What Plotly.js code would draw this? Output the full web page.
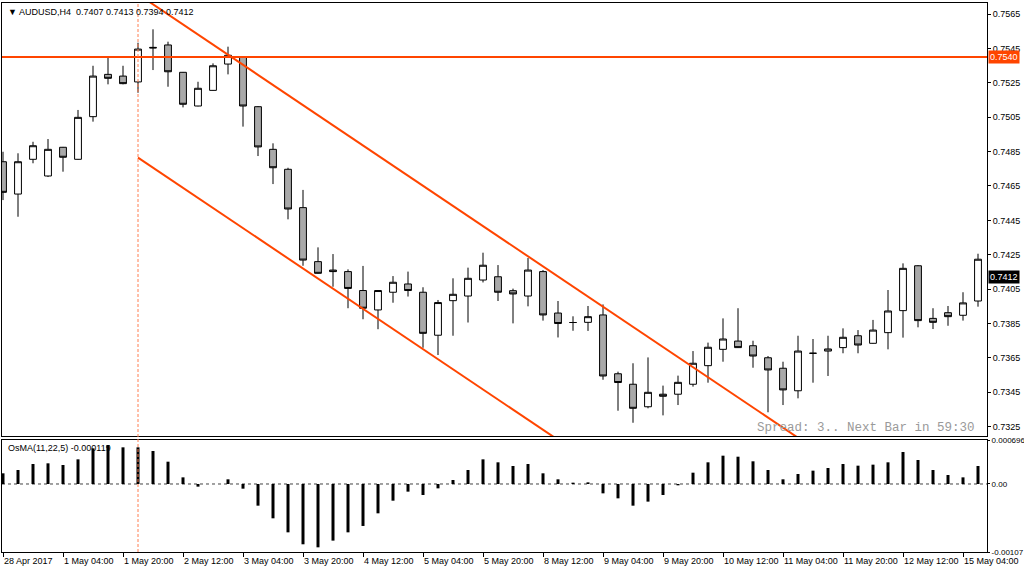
<!DOCTYPE html>
<html>
<head>
<meta charset="utf-8">
<script src="https://cdn.plot.ly/plotly-3.0.1.min.js"></script>
<style>html,body{margin:0;padding:0;background:#fff;}#chart{width:1024px;height:572px;}</style>
</head>
<body>
<div id="chart"></div>
<script>
// ---- data (AUDUSD, H4) ----
const opens = [0.74791,0.74603,0.74805,0.74708,0.74875,0.74805,0.75053,0.75299,0.75289,0.75255,
0.75456,0.75470,0.75311,0.75115,0.75206,0.75359,0.75398,0.75111,0.74863,0.74747,
0.74524,0.74210,0.74161,0.74152,0.74042,0.73929,0.74032,0.74080,0.74032,0.73782,
0.73983,0.74010,0.74103,0.74122,0.74041,0.74010,0.74152,0.73911,0.73856,0.73857,
0.73900,0.73558,0.73497,0.73366,0.73439,0.73439,0.73497,0.73605,0.73700,0.73748,
0.73721,0.73651,0.73590,0.73459,0.73677,0.73690,0.73710,0.73779,0.73735,0.73797,
0.73925,0.74186,0.73880,0.73913,0.73898,0.73981];
const highs = [0.74849,0.74840,0.74907,0.74923,0.74877,0.75092,0.75349,0.75398,0.75349,0.75483,
0.75561,0.75489,0.75313,0.75256,0.75363,0.75460,0.75400,0.75115,0.74898,0.74756,
0.74627,0.74293,0.74254,0.74165,0.74185,0.74045,0.74126,0.74152,0.74061,0.73987,
0.74113,0.74175,0.74262,0.74190,0.74053,0.74231,0.74161,0.73981,0.73892,0.73952,
0.73961,0.73570,0.73619,0.73653,0.73489,0.73547,0.73690,0.73739,0.73880,0.73939,
0.73750,0.73661,0.73628,0.73779,0.73760,0.73779,0.73822,0.73812,0.73871,0.74045,
0.74200,0.74190,0.73939,0.73952,0.74032,0.74256];
const lows = [0.74568,0.74471,0.74782,0.74702,0.74733,0.74803,0.75024,0.75241,0.75241,0.75192,
0.75324,0.75227,0.75107,0.75113,0.75204,0.75299,0.74995,0.74824,0.74661,0.74456,
0.74186,0.74140,0.74064,0.73939,0.73875,0.73817,0.73971,0.74007,0.73709,0.73667,
0.73779,0.73856,0.74089,0.73981,0.73851,0.73950,0.73867,0.73769,0.73808,0.73807,
0.73523,0.73343,0.73273,0.73357,0.73316,0.73376,0.73483,0.73506,0.73628,0.73708,
0.73593,0.73334,0.73376,0.73415,0.73506,0.73545,0.73677,0.73677,0.73733,0.73700,
0.73768,0.73828,0.73818,0.73837,0.73867,0.73948];
const closes = [0.74613,0.74791,0.74884,0.74863,0.74817,0.75049,0.75289,0.75276,0.75245,0.75446,
0.75453,0.75314,0.75125,0.75218,0.75349,0.75410,0.75115,0.74877,0.74756,0.74516,
0.74219,0.74142,0.74152,0.74054,0.73939,0.74042,0.74090,0.74042,0.73793,0.73972,
0.74020,0.74113,0.74189,0.74032,0.74022,0.74161,0.73900,0.73850,0.73856,0.73890,
0.73545,0.73507,0.73357,0.73450,0.73427,0.73508,0.73619,0.73712,0.73760,0.73710,
0.73661,0.73580,0.73464,0.73690,0.73677,0.73702,0.73770,0.73725,0.73812,0.73923,
0.74171,0.73867,0.73857,0.73890,0.73970,0.74224];
const osma = [0.000169,0.000221,0.000316,0.000327,0.000301,0.00039,0.000564,0.000617,0.00058,0.00058,
0.000522,0.000353,0.000105,-0.000042,0,0.000074,-0.000074,-0.000343,-0.000543,-0.000765,
-0.000954,-0.001002,-0.000896,-0.000765,-0.000664,-0.000464,-0.000264,-0.000121,-0.000174,-0.000069,
0.000063,0.000221,0.00039,0.000343,0.000285,0.000316,0.000169,0.000074,0.000021,0.000026,
-0.000148,-0.000227,-0.000343,-0.000279,-0.000174,-0.000021,0.000179,0.000343,0.000448,0.000432,
0.000359,0.000221,0.000074,0.000158,0.000211,0.000253,0.000316,0.00029,0.000306,0.000343,
0.000506,0.00038,0.000221,0.000142,0.000105,0.000285];

const tickIdx = [0,4,8,12,16,20,24,28,32,36,40,44,48,52,56,60,64];
const tickLabels = ["28 Apr 2017","1 May 04:00","1 May 20:00","2 May 12:00","3 May 04:00","3 May 20:00",
"4 May 12:00","5 May 04:00","5 May 20:00","8 May 12:00","9 May 04:00","9 May 20:00",
"10 May 12:00","11 May 04:00","11 May 20:00","12 May 12:00","15 May 04:00"];
const priceTicks = [0.7325,0.7345,0.7365,0.7385,0.7405,0.7425,0.7445,0.7465,0.7485,0.7505,0.7525,0.7545,0.7565];
const oscTicks = [0.000696,0,-0.001076];
const oscTickText = ["0.000696","0.00","-0.00107"];

// channel (bar index, price) anchors, horizontal level, marker bar
const channelX = [9, 80];
const upperChannel = [0.75765, 0.71603];
const lowerChannel = [0.74815, 0.70653];
const hLevel = 0.7540;
const bidPrice = 0.7412;
const markerBar = 9;
const headerText = "\u25BC AUDUSD,H4\u00a0\u00a00.7407 0.7413 0.7394 0.7412";
const oscLabel = "OsMA(11,22,5) -0.000119";
const spreadText = "Spread: 3.. Next Bar in 59:30";

// ---- chart ----
const barIdx = opens.map((_, i) => i);
const RED = '#ff4500';
const xr = [-0.0667, 65.6];
const axisFont = {family:'Liberation Sans, Arial, sans-serif', size:9, color:'#000'};

const traces = [
  {type:'candlestick', x:barIdx, open:opens, high:highs, low:lows, close:closes,
   xaxis:'x', yaxis:'y', hoverinfo:'none',
   increasing:{line:{color:'#000',width:1}, fillcolor:'#ffffff'},
   decreasing:{line:{color:'#000',width:1}, fillcolor:'#a9a9a9'}},
  {type:'bar', x:barIdx, y:osma, xaxis:'x2', yaxis:'y2', marker:{color:'#000'}, width:0.2, hoverinfo:'none'},
  {type:'scatter', mode:'lines', x:channelX, y:upperChannel, xaxis:'x', yaxis:'y', line:{color:RED,width:2}, hoverinfo:'none'},
  {type:'scatter', mode:'lines', x:channelX, y:lowerChannel, xaxis:'x', yaxis:'y', line:{color:RED,width:2}, hoverinfo:'none'}
];

const layout = {
  width:1024, height:572,
  margin:{l:2, r:37, t:3, b:20, pad:0},
  paper_bgcolor:'#ffffff', plot_bgcolor:'#ffffff',
  showlegend:false,
  boxgap:0.35,
  font:axisFont,
  xaxis:{domain:[0,1], anchor:'y', range:xr, showticklabels:false, ticks:'', showline:true, mirror:true,
         linecolor:'#000', linewidth:1, showgrid:false, zeroline:false, rangeslider:{visible:false}, fixedrange:true},
  yaxis:{domain:[0.2113,1], anchor:'x', side:'right', range:[0.73196,0.75714], tickvals:priceTicks, tickformat:'.4f',
         ticks:'outside', ticklen:3, tickcolor:'#000', showline:true, mirror:true, linecolor:'#000', linewidth:1,
         showgrid:false, zeroline:false, tickfont:axisFont, fixedrange:true},
  xaxis2:{domain:[0,1], anchor:'y2', range:xr, tickvals:tickIdx, ticktext:tickLabels, ticks:'outside', ticklen:4,
          tickangle:0, tickcolor:'#000', ticklabelposition:'outside right', showline:true, mirror:true, linecolor:'#000', linewidth:1,
          showgrid:false, zeroline:false, tickfont:axisFont, fixedrange:true},
  yaxis2:{domain:[0,0.204], anchor:'x2', side:'right', range:[-0.001076,0.000696], tickvals:oscTicks, ticktext:oscTickText,
          ticks:'outside', ticklen:2, tickcolor:'#000', showline:true, mirror:true, linecolor:'#000', linewidth:1,
          showgrid:false, zeroline:false, tickfont:{family:'Liberation Sans, Arial, sans-serif', size:8, color:'#000'}, fixedrange:true},
  shapes:[
    {type:'line', xref:'paper', x0:0, x1:1, yref:'y', y0:hLevel, y1:hLevel, line:{color:RED, width:2}},
    {type:'line', xref:'paper', x0:0, x1:1, yref:'y2', y0:0, y1:0, layer:'below', line:{color:'#444', width:1, dash:'3px,3px'}},
    {type:'line', xref:'x', x0:markerBar, x1:markerBar, yref:'paper', y0:0, y1:1, line:{color:'#ff7f50', width:1, dash:'3px,2px'}}
  ],
  annotations:[
    {xref:'paper', x:0, xanchor:'left', xshift:4, yref:'paper', y:1, yanchor:'top', yshift:-2, text:headerText,
     showarrow:false, font:{family:'Liberation Sans, Arial, sans-serif', size:9, color:'#000'}},
    {xref:'paper', x:0, xanchor:'left', xshift:4, yref:'y2 domain', y:1, yanchor:'top', yshift:-1, text:oscLabel,
     showarrow:false, font:{family:'Liberation Sans, Arial, sans-serif', size:9, color:'#000'}},
    {xref:'paper', x:0.9898, xanchor:'right', yref:'paper', y:0.2259, yanchor:'middle', text:spreadText,
     showarrow:false, font:{family:'Liberation Mono, DejaVu Sans Mono, monospace', size:12.5, color:'#9a9a9a'}},
    {xref:'paper', x:1, xanchor:'left', xshift:1, yref:'y', y:hLevel, yanchor:'middle', text:String(hLevel.toFixed(4)),
     showarrow:false, bgcolor:RED, borderpad:1, font:{family:'Liberation Sans, Arial, sans-serif', size:9, color:'#ffffff'}},
    {xref:'paper', x:1, xanchor:'left', xshift:1, yref:'y', y:bidPrice, yanchor:'middle', text:String(bidPrice.toFixed(4)),
     showarrow:false, bgcolor:'#000000', borderpad:1, font:{family:'Liberation Sans, Arial, sans-serif', size:9, color:'#ffffff'}}
  ]
};

Plotly.newPlot('chart', traces, layout, {displayModeBar:false, staticPlot:true});
</script>
</body>
</html>
